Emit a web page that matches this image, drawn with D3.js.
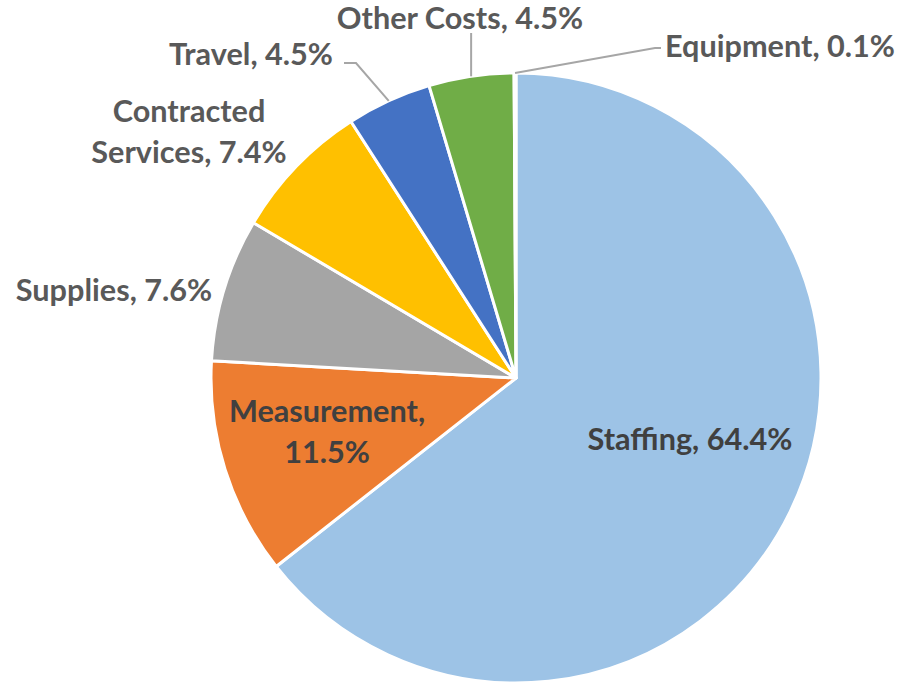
<!DOCTYPE html>
<html><head><meta charset="utf-8">
<script src="https://cdn.jsdelivr.net/npm/d3@7"></script>
<style>body{margin:0;background:#fff} svg{display:block}</style>
</head><body><svg id="c" width="901" height="685"></svg>
<script>
// ---- data ----
const categories = ["Staffing","Measurement","Supplies","Contracted Services","Travel","Other Costs","Equipment"];
const values = [64.4, 11.5, 7.6, 7.4, 4.5, 4.5, 0.1];
const labelLines = [["Staffing, 64.4%"],["Measurement,","11.5%"],["Supplies, 7.6%"],["Contracted","Services, 7.4%"],["Travel, 4.5%"],["Other Costs, 4.5%"],["Equipment, 0.1%"]];
const colors = ["#9DC3E6","#ED7D31","#A5A5A5","#FFC000","#4472C4","#70AD47","#264478"];

// ---- layout ----
const W = 901, H = 685, cx = 516, cy = 378, R = 305;
const labelLayout = [
  {x:690, y:450, gap:0, inside:true},
  {x:327, y:422, gap:41, inside:true},
  {x:114, y:301, gap:0},
  {x:189, y:122, gap:41},
  {x:251, y:65, gap:0, leader:[[356,63],[344,63]]},
  {x:460, y:29, gap:0, leader:[[null,33]]},
  {x:780, y:57, gap:0, leader:[[655,48],[661,48]]}
];

const svg = d3.select("#c");
const fontFamily = "Lato, 'Open Sans', sans-serif";

const probe = svg.append("text").attr("font-family", fontFamily).attr("font-weight", 700)
  .attr("font-size", 100).text("Staffing, 64.4%");
const w100 = probe.node().getComputedTextLength();
probe.remove();
const fontSize = 100 * 205 / w100;

const pie = d3.pie().sort(null).value(d => d);
const arcs = pie(values);
const arc = d3.arc().innerRadius(0).outerRadius(R);

const g = svg.append("g").attr("transform", `translate(${cx},${cy})`);
g.selectAll("path").data(arcs).join("path")
  .attr("d", arc)
  .attr("fill", (d,i) => colors[i])
  .attr("stroke", "#fff")
  .attr("stroke-width", 3)
  .attr("stroke-linejoin", "round");

arcs.forEach((d, i) => {
  const L = labelLayout[i];
  if (!L.leader) return;
  const mid = (d.startAngle + d.endAngle) / 2;
  const start = [cx + R * Math.sin(mid), cy - R * Math.cos(mid)];
  const pts = [start].concat(L.leader.map(p => [p[0] == null ? start[0] : p[0], p[1]]));
  svg.append("path")
    .attr("d", d3.line()(pts))
    .attr("fill", "none")
    .attr("stroke", "#A6A6A6")
    .attr("stroke-width", 2);
});

labelLines.forEach((lines, i) => {
  const L = labelLayout[i];
  const t = svg.append("text")
    .attr("font-family", fontFamily)
    .attr("font-weight", 700)
    .attr("font-size", fontSize)
    .attr("fill", L.inside ? "#404040" : "#595959")
    .attr("text-anchor", "middle");
  lines.forEach((s, k) => {
    t.append("tspan").attr("x", L.x).attr("y", L.y + k * L.gap).text(s);
  });
});
</script>
</body></html>
